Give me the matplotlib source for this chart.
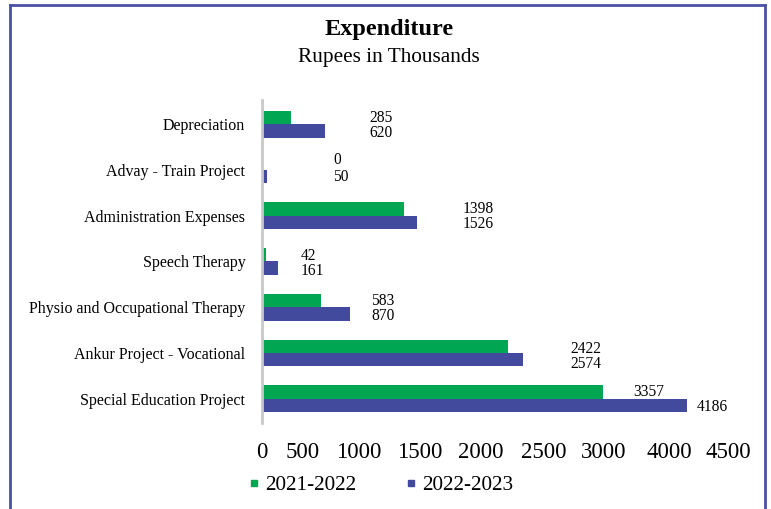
import numpy as np
import matplotlib.pyplot as plt
from matplotlib.lines import Line2D

# data, top to bottom as in the chart
categories = ["Depreciation", "Advay - Train Project", "Administration Expenses",
              "Speech Therapy", "Physio and Occupational Therapy",
              "Ankur Project - Vocational", "Special Education Project"]
fy_2122 = [285, 0, 1398, 42, 583, 2422, 3357]
fy_2223 = [620, 50, 1526, 161, 870, 2574, 4186]
series_names = ["2021-2022", "2022-2023"]
tick_labels = ["0", "500", "1000", "1500", "2000", "2500", "3000", "4000", "4500"]

# layout (where the original puts its texts)
tick_pos = [0, 404, 955, 1555, 2156, 2776, 3366, 4016, 4590]
label_x = [[1053, 1053], [699, 699], [1978, 1978], [384, 384],
           [1073, 1073], [3041, 3041], [3661, 4281]]
label_dy = [[0.02, 0.05], [-0.08, 0.0], [0.0, 0.04], [0.03, 0.05],
            [0.02, 0.05], [0.05, 0.09], [0.0, 0.04]]

green = "#00A651"
blue = "#424A9E"

plt.rcParams['font.family'] = ['Liberation Serif', 'DejaVu Serif']

fig = plt.figure(figsize=(7.71, 5.09), dpi=100)
ax = fig.add_axes([262/771, 1 - 423/509, 469/771, 323/509])

y = np.arange(len(categories))
h = 0.295
ax.barh(y - h/2, fy_2122, height=h, color=green, label=series_names[0])
ax.barh(y + h/2, fy_2223, height=h, color=blue, label=series_names[1])

for i in range(len(categories)):
    ax.text(label_x[i][0], y[i] - h/2 + label_dy[i][0], str(fy_2122[i]),
            ha='left', va='center', fontsize=11.2)
    ax.text(label_x[i][1], y[i] + h/2 + label_dy[i][1], str(fy_2223[i]),
            ha='left', va='center', fontsize=11.2)

ax.set_yticks(y, categories, fontsize=11.5)
ax.set_xticks(tick_pos, tick_labels, fontsize=16.5)
ax.set_ylim(len(categories) - 0.47, -0.53)
ax.set_xlim(0, 4620)
ax.tick_params(axis='y', length=0, pad=12)
ax.tick_params(axis='x', length=0, pad=14)
for s in ['top', 'right', 'bottom']:
    ax.spines[s].set_visible(False)
ax.spines['left'].set_color('#c8c8c8')
ax.spines['left'].set_linewidth(2)

fig.text(389/771, 1 - 30/509, "Expenditure", ha='center', va='center',
         fontsize=17.5, fontweight='bold')
fig.text(389/771, 1 - 58/509, "Rupees in Thousands", ha='center', va='center',
         fontsize=15.3)

handles = [Line2D([], [], ls='none', marker='s', markersize=5, color=green),
           Line2D([], [], ls='none', marker='s', markersize=5, color=blue)]
fig.legend(handles, series_names, loc='center left',
           bbox_to_anchor=(249/771, 1 - 485/509), ncol=2, frameon=False,
           fontsize=15.3, handlelength=0.5, handletextpad=0.25,
           columnspacing=2.35, borderpad=0, borderaxespad=0)

# outer frame (left, top, right)
fc = "#4A50A4"
fig.add_artist(Line2D([10/771, 10/771], [0, 1 - 5/509], color=fc, lw=2))
fig.add_artist(Line2D([10/771, 765/771], [1 - 5/509, 1 - 5/509], color=fc, lw=2))
fig.add_artist(Line2D([765/771, 765/771], [0, 1 - 5/509], color=fc, lw=2))

fig.savefig("out.png", dpi=100)
